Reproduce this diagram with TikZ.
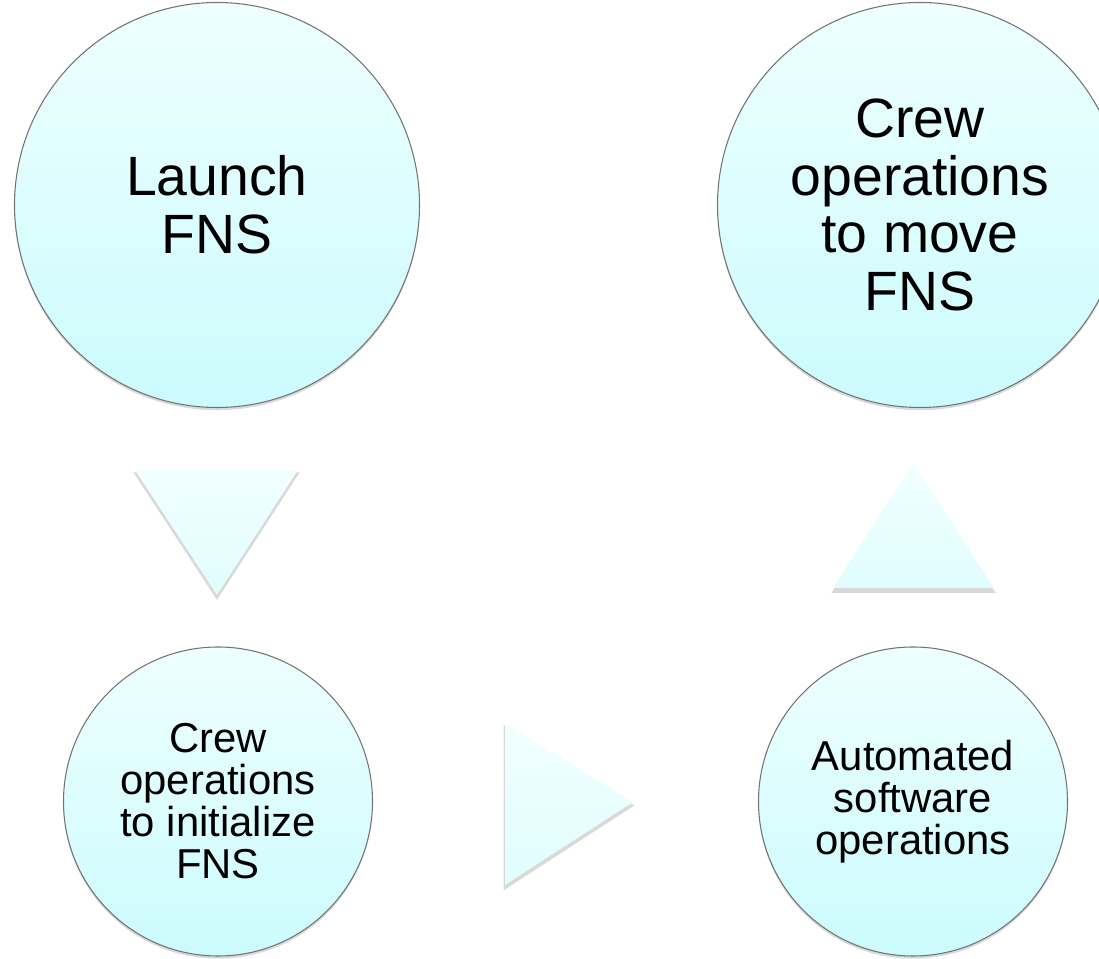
\documentclass[tikz,border=0pt]{standalone}
\usepackage{fontspec}
\setmainfont{Liberation Sans}
\usetikzlibrary{shadows, positioning}
\definecolor{cyTop}{HTML}{EEFFFF}
\definecolor{cyBot}{HTML}{CCFBFD}
\definecolor{triTop}{HTML}{F2FFFF}
\definecolor{triBot}{HTML}{E0FDFE}

\tikzset{
  bigstep/.style={circle, draw=black!55, line width=0.6pt,
    top color=cyTop, bottom color=cyBot, minimum size=8.1cm,
    inner sep=0pt, align=center, font=\fontsize{31.5}{32.8}\selectfont,
    drop shadow={shadow xshift=0pt, shadow yshift=-1.5pt, opacity=0.3}},
  smallstep/.style={bigstep, minimum size=6.18cm,
    font=\fontsize{23.8}{23.9}\selectfont},
  arrowtri/.style={top color=triTop, bottom color=triBot,
    drop shadow={shadow xshift=0pt, shadow yshift=-2pt, shadow scale=1.02,
      opacity=0.3}}
}

\begin{document}
\begin{tikzpicture}
  \useasboundingbox (0,0) rectangle (21.98,19.18);
  % the four steps
  \node[bigstep] (launch) at (4.34,15.08) {Launch\\FNS};
  \node[bigstep] (move) at (18.40,15.08) {Crew\\operations\\to move\\FNS};
  \node[smallstep] (init) at (4.36,3.15) {Crew\\operations\\to initialize\\FNS};
  \node[smallstep] (auto) at (18.26,3.15) {Automated\\software\\operations};
  % arrows between them
  \path[arrowtri] (2.70,9.78) -- (5.96,9.78) -- (4.34,7.28) -- cycle;
  \path[arrowtri] (10.10,4.72) -- (12.66,3.14) -- (10.10,1.48) -- cycle;
  \path[arrowtri] (16.66,7.42) -- (18.26,9.92) -- (19.88,7.42) -- cycle;
\end{tikzpicture}
\end{document}
